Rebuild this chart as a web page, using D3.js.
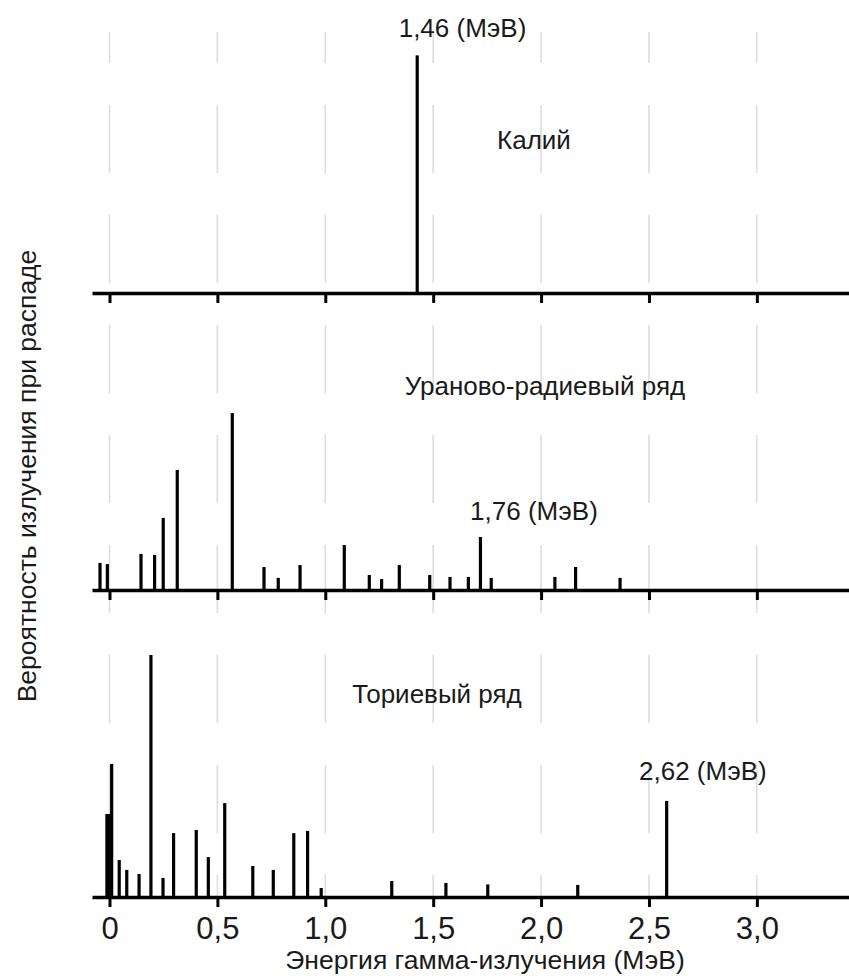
<!DOCTYPE html>
<html>
<head>
<meta charset="utf-8">
<script src="https://cdn.jsdelivr.net/npm/d3@7"></script>
<style>
body { margin: 0; background: #fff; }
text { font-family: "Liberation Sans", Arial, sans-serif; fill: #1a1a1a; }
</style>
</head>
<body>
<svg></svg>
<script>
// gamma line energies (MeV) and relative intensity
var kEnergy = [1.426];
var kValue = [98.2];

var uEnergy = [-0.044, -0.010, 0.146, 0.209, 0.249, 0.314, 0.569, 0.716, 0.782, 0.883, 1.088,
               1.204, 1.261, 1.343, 1.484, 1.578, 1.663, 1.719, 1.769, 2.064, 2.160, 2.366];
var uValue = [11.2, 10.7, 14.9, 14.5, 29.8, 49.6, 73.1, 9.5, 5.0, 10.3, 18.6,
              6.2, 4.5, 10.3, 6.2, 5.4, 5.4, 21.9, 5.0, 5.4, 9.5, 5.0];

var thEnergy = [-0.012, -0.003, 0.010, 0.045, 0.080, 0.137, 0.192, 0.248, 0.297, 0.402, 0.458,
                0.534, 0.664, 0.759, 0.854, 0.918, 0.981, 1.308, 1.559, 1.753, 2.170, 2.582];
var thValue = [34.3, 34.3, 55.0, 15.3, 11.2, 9.5, 100, 7.9, 26.4, 27.7, 16.5,
               38.8, 12.8, 11.2, 26.4, 27.3, 3.7, 6.6, 5.8, 5.2, 5.0, 39.7];

var tickValues = [0, 0.5, 1.0, 1.5, 2.0, 2.5, 3.0];
var tickLabels = ["0", "0,5", "1,0", "1,5", "2,0", "2,5", "3,0"];

var panelNames = ["Калий", "Ураново-радиевый ряд", "Ториевый ряд"];
var peakLabels = ["1,46 (МэВ)", "1,76 (МэВ)", "2,62 (МэВ)"];
var xTitle = "Энергия гамма-излучения (МэВ)";
var yTitle = "Вероятность излучения при распаде";

var width = 849, height = 976;

var svg = d3.select("svg")
    .attr("width", width)
    .attr("height", height);

var x = d3.scaleLinear()
    .domain([-0.0811, 3.427])
    .range([92, 849]);

// bar height in px for a relative intensity
var h = d3.scaleLinear()
    .domain([0, 100])
    .range([0, 242]);

// layout of the three stacked panels
var panels = [
    { e: kEnergy,  v: kValue,  base: 293, nameX: 1.967, nameDy: 144, peakX: 1.636, peakDy: 256 },
    { e: uEnergy,  v: uValue,  base: 590, nameX: 2.018, nameDy: 195, peakX: 1.967, peakDy: 70 },
    { e: thEnergy, v: thValue, base: 897, nameX: 1.518, nameDy: 194, peakX: 2.750, peakDy: 117 }
];

// dashed grid lines running through all panels
svg.append("g")
    .selectAll("line")
    .data(tickValues)
    .enter()
    .append("line")
    .attr("x1", function(d) { return x(d); })
    .attr("x2", function(d) { return x(d); })
    .attr("y1", 32)
    .attr("y2", 897)
    .attr("stroke", "#dcdcdc")
    .attr("stroke-width", 1.5)
    .attr("stroke-dasharray", "68,42")
    .attr("stroke-dashoffset", 37);

panels.forEach(function(p, i) {
    var g = svg.append("g");

    var axis = d3.axisBottom(x)
        .tickValues(tickValues)
        .tickSize(10)
        .tickSizeOuter(0)
        .tickPadding(10)
        .tickFormat(function(d, j) { return i == 2 ? tickLabels[j] : ""; });

    var ax = g.append("g")
        .attr("transform", "translate(0," + p.base + ")")
        .call(axis);
    ax.select(".domain").attr("stroke", "#000").attr("stroke-width", 3.5);
    ax.selectAll(".tick line").attr("stroke", "#000").attr("stroke-width", 3);
    ax.selectAll(".tick text")
        .attr("fill", "#1a1a1a")
        .style("font-size", "31px")
        .style("font-family", "\"Liberation Sans\", Arial, sans-serif");

    // spectrum lines
    g.selectAll("line.bar")
        .data(p.e)
        .enter()
        .append("line")
        .attr("class", "bar")
        .attr("x1", function(d) { return x(d); })
        .attr("x2", function(d) { return x(d); })
        .attr("y1", p.base)
        .attr("y2", function(d, j) { return p.base - h(p.v[j]); })
        .attr("stroke", "#000")
        .attr("stroke-width", 3.2);

    g.append("text")
        .attr("x", x(p.nameX))
        .attr("y", p.base - p.nameDy)
        .attr("text-anchor", "middle")
        .style("font-size", "26px")
        .text(panelNames[i]);

    g.append("text")
        .attr("x", x(p.peakX))
        .attr("y", p.base - p.peakDy)
        .attr("text-anchor", "middle")
        .style("font-size", "26px")
        .text(peakLabels[i]);
});

svg.append("text")
    .attr("x", 485)
    .attr("y", 969)
    .attr("text-anchor", "middle")
    .style("font-size", "26.5px")
    .text(xTitle);

svg.append("text")
    .attr("transform", "translate(35.5,476) rotate(-90)")
    .attr("text-anchor", "middle")
    .style("font-size", "26.5px")
    .text(yTitle);
</script>
</body>
</html>
